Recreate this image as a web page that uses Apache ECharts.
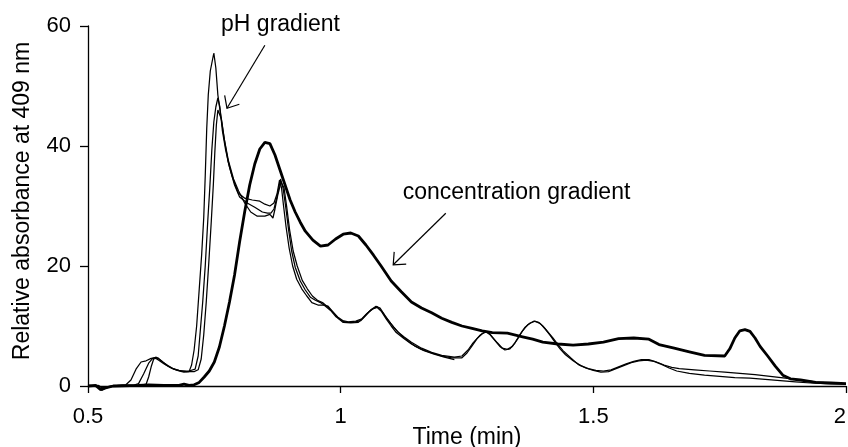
<!DOCTYPE html>
<html>
<head>
<meta charset="utf-8">
<script src="https://cdn.jsdelivr.net/npm/echarts@6/dist/echarts.min.js"></script>
<style>
html, body { margin: 0; padding: 0; background: #fff; }
#chart1 { width: 848px; height: 447px; }
</style>
</head>
<body>
<div id="chart1"></div>
<script>
// axis ticks
var xTicks = [0.5, 1, 1.5, 2];
var yTicks = [0, 20, 40, 60];

// concentration gradient run (thick)
var concRun = [
    [0.5, 0], [0.515, 0.1], [0.525, -0.6], [0.535, -0.3], [0.55, 0], [0.6, 0.1], [0.62, 0.2],
    [0.65, 0.1], [0.68, 0.1], [0.69, 0.3], [0.7, 0.1], [0.71, 0.2], [0.72, 0.6], [0.73, 1.5],
    [0.74, 2.5], [0.75, 4], [0.76, 6.5], [0.77, 10], [0.78, 14], [0.79, 18.5], [0.8, 24],
    [0.81, 29], [0.82, 33.5], [0.83, 37], [0.84, 39.5], [0.85, 40.6], [0.86, 40.4], [0.87, 38.5],
    [0.88, 36], [0.89, 33.5], [0.9, 31], [0.91, 29], [0.92, 27.3], [0.93, 25.8], [0.945, 24.3],
    [0.96, 23.3], [0.975, 23.5], [0.99, 24.5], [1.005, 25.3], [1.02, 25.5], [1.035, 25],
    [1.05, 23.5], [1.065, 21.8], [1.08, 20], [1.1, 17.5], [1.12, 15.7], [1.14, 14], [1.16, 13],
    [1.18, 12.2], [1.2, 11.3], [1.22, 10.6], [1.24, 10], [1.26, 9.6], [1.28, 9.2], [1.3, 8.9],
    [1.33, 8.8], [1.36, 8.2], [1.38, 7.8], [1.4, 7.3], [1.43, 7], [1.46, 6.8], [1.49, 7],
    [1.52, 7.3], [1.55, 7.9], [1.58, 8], [1.61, 7.8], [1.63, 6.9], [1.66, 6.3], [1.69, 5.7],
    [1.72, 5.1], [1.76, 5], [1.77, 6.2], [1.78, 8], [1.79, 9.2], [1.8, 9.4], [1.81, 9.1],
    [1.82, 8], [1.83, 6.6], [1.845, 5], [1.86, 3.3], [1.875, 1.8], [1.89, 1.2], [1.91, 1],
    [1.94, 0.6], [1.97, 0.5], [2, 0.4]
];

// pH gradient runs (thin)
var phRunA = [
    [0.5, 0.1], [0.52, 0], [0.528, -0.7], [0.54, -0.2], [0.56, 0.1], [0.575, 0.2], [0.585, 1],
    [0.595, 2.8], [0.605, 4], [0.615, 4.2], [0.625, 4.6], [0.632, 4.7], [0.64, 4.3], [0.65, 3.7],
    [0.66, 3.2], [0.67, 2.8], [0.68, 2.5], [0.69, 2.3], [0.7, 2.4], [0.705, 3.5], [0.71, 6],
    [0.715, 10], [0.72, 16], [0.725, 22], [0.729, 28], [0.732, 35], [0.735, 43], [0.738, 48.5],
    [0.742, 52.5], [0.749, 55.5], [0.753, 53], [0.757, 48.5], [0.762, 45.5], [0.769, 41.5],
    [0.777, 37.5], [0.785, 35], [0.797, 32.2], [0.81, 31.3], [0.825, 31], [0.84, 30.8],
    [0.85, 30.3], [0.86, 30], [0.868, 30.5], [0.874, 32], [0.879, 34.3], [0.883, 33],
    [0.887, 30], [0.892, 26.5], [0.898, 23], [0.905, 20], [0.913, 17.8], [0.923, 16.2],
    [0.933, 15], [0.943, 13.9], [0.955, 13.5], [0.965, 13.5], [0.975, 13.3], [0.985, 12.3],
    [0.995, 11.3], [1.005, 10.6], [1.02, 10.5], [1.035, 10.6], [1.045, 11.4], [1.055, 12.3],
    [1.065, 12.9], [1.072, 13.1], [1.08, 12.5], [1.09, 11.2], [1.1, 10], [1.11, 8.9],
    [1.125, 7.9], [1.14, 7], [1.16, 6.1], [1.18, 5.5], [1.2, 5], [1.22, 4.7], [1.24, 4.7],
    [1.25, 5.5], [1.26, 6.7], [1.27, 7.9], [1.28, 8.7], [1.288, 9], [1.295, 8.6], [1.305, 7.6],
    [1.315, 6.6], [1.325, 6], [1.335, 6.2], [1.345, 7.2], [1.355, 8.6], [1.365, 9.8],
    [1.375, 10.5], [1.385, 10.8], [1.395, 10.4], [1.405, 9.5], [1.415, 8.4], [1.425, 7.2],
    [1.435, 6.1], [1.445, 5.2], [1.46, 4.2], [1.475, 3.4], [1.49, 2.9], [1.505, 2.6],
    [1.52, 2.5], [1.535, 2.7], [1.55, 3.2], [1.565, 3.7], [1.58, 4.1], [1.595, 4.4], [1.61, 4.4],
    [1.625, 4], [1.64, 3.5], [1.655, 3.1], [1.67, 2.9], [1.7, 2.7], [1.73, 2.5], [1.76, 2.3],
    [1.79, 2.1], [1.82, 1.9], [1.85, 1.6], [1.88, 1.3], [1.91, 1], [1.94, 0.7], [1.97, 0.5],
    [2, 0.4]
];

var phRunB = [
    [0.5, 0], [0.52, 0.1], [0.53, -0.4], [0.545, 0], [0.57, 0.1], [0.59, 0.1], [0.6, 0.4],
    [0.61, 2], [0.62, 3.8], [0.628, 4.6], [0.635, 4.8], [0.645, 4.2], [0.655, 3.5], [0.665, 3],
    [0.675, 2.7], [0.685, 2.5], [0.7, 2.5], [0.712, 2.8], [0.718, 5], [0.722, 9], [0.727, 14],
    [0.732, 20], [0.737, 27.5], [0.741, 33], [0.745, 39.3], [0.749, 44], [0.753, 46.5],
    [0.757, 48], [0.761, 46.5], [0.766, 42.5], [0.772, 39.5], [0.78, 36.5], [0.79, 33.5],
    [0.8, 31.5], [0.815, 30.5], [0.83, 29.8], [0.845, 29], [0.855, 28.8], [0.862, 28.8],
    [0.868, 29.5], [0.874, 31.5], [0.881, 34.5], [0.886, 33], [0.891, 30], [0.897, 26],
    [0.903, 22.5], [0.91, 19.8], [0.92, 17.5], [0.93, 16], [0.94, 14.8], [0.95, 14.3],
    [0.96, 13.9], [0.97, 13.3], [0.98, 12.6], [0.99, 11.6], [1, 11], [1.01, 10.6], [1.025, 10.6],
    [1.04, 10.9], [1.05, 11.8], [1.06, 12.7], [1.07, 13.3], [1.078, 13], [1.088, 11.7],
    [1.1, 10.3], [1.112, 9.1], [1.125, 8.2], [1.14, 7.3], [1.16, 6.3], [1.18, 5.6], [1.2, 5.1],
    [1.225, 4.8], [1.24, 5], [1.252, 6], [1.262, 7.2], [1.275, 8.4], [1.285, 9], [1.292, 9],
    [1.3, 8.2], [1.31, 7.2], [1.32, 6.3], [1.33, 6.1], [1.34, 6.6], [1.35, 7.8], [1.36, 9.2],
    [1.37, 10.2], [1.382, 10.8], [1.392, 10.6], [1.4, 10], [1.41, 9], [1.42, 8], [1.43, 6.9],
    [1.44, 5.9], [1.455, 4.7], [1.47, 3.6], [1.485, 3], [1.5, 2.6], [1.515, 2.3], [1.53, 2.4],
    [1.545, 2.9], [1.56, 3.4], [1.575, 3.9], [1.59, 4.2], [1.605, 4.3], [1.62, 4.1],
    [1.635, 3.6], [1.65, 3], [1.665, 2.5], [1.69, 2.1], [1.72, 1.8], [1.75, 1.6], [1.78, 1.4],
    [1.81, 1.3], [1.84, 1.1], [1.87, 0.9], [1.9, 0.7], [1.93, 0.5], [1.96, 0.4], [2, 0.3]
];

var phRunC = [
    [0.5, 0], [0.52, 0], [0.535, -0.3], [0.55, 0], [0.58, 0.1], [0.605, 0.1], [0.615, 0.3],
    [0.62, 1.5], [0.625, 3.2], [0.63, 4.5], [0.638, 4.7], [0.648, 4], [0.658, 3.4], [0.668, 2.9],
    [0.68, 2.6], [0.695, 2.4], [0.71, 2.4], [0.718, 2.7], [0.724, 4.5], [0.729, 8.5],
    [0.734, 14], [0.739, 20.5], [0.744, 27.5], [0.748, 33.5], [0.751, 39], [0.754, 43.5],
    [0.757, 46], [0.76, 46.3], [0.764, 44.5], [0.77, 41], [0.778, 37.5], [0.788, 34.5],
    [0.798, 32.5], [0.81, 30.5], [0.822, 29], [0.835, 28.3], [0.85, 28.3], [0.86, 28.6],
    [0.866, 28], [0.87, 29.5], [0.876, 32], [0.882, 34], [0.888, 33], [0.893, 30],
    [0.899, 26], [0.906, 22.5], [0.914, 20], [0.924, 17.6], [0.934, 16.2], [0.944, 15],
    [0.954, 14.3], [0.964, 13.9], [0.974, 13.2], [0.984, 12.4], [0.994, 11.5], [1.004, 10.9],
    [1.015, 10.7], [1.03, 10.8], [1.042, 11.2], [1.052, 12.1], [1.062, 12.8], [1.072, 13.2],
    [1.082, 12.4], [1.092, 11.2], [1.105, 9.8], [1.118, 8.6], [1.132, 7.6], [1.148, 6.6],
    [1.165, 5.9], [1.185, 5.3], [1.205, 4.8], [1.225, 4.4]
];

// annotations, in data units: text centre, arrow start, arrow tip
var phNote = { text: 'pH gradient', at: [0.881, 60.2], from: [0.85, 56.8], to: [0.775, 46.3] };
var concNote = { text: 'concentration gradient', at: [1.348, 32.2], from: [1.208, 28.8], to: [1.104, 20.2] };

var FONT = '"Liberation Sans", Arial, sans-serif';

var chart = echarts.init(document.getElementById('chart1'));

function thin(name, data) {
    return {
        name: name, type: 'line', data: data, symbol: 'none', clip: false,
        lineStyle: { color: '#000', width: 1.25 }, z: 3
    };
}

var option = {
    animation: false,
    backgroundColor: '#fff',
    textStyle: { fontFamily: FONT },
    grid: { left: 88, right: 2, top: 26, bottom: 61, outerBoundsMode: 'none', containLabel: false },
    xAxis: {
        type: 'value', min: xTicks[0], max: xTicks[xTicks.length - 1], interval: 0.5,
        name: 'Time (min)', nameLocation: 'middle', nameGap: 40, nameMoveOverlap: false,
        nameTextStyle: { color: '#000', fontSize: 23, fontFamily: FONT },
        axisLine: { onZero: false, lineStyle: { color: '#000', width: 1.3 } },
        axisTick: { show: true, length: 7, lineStyle: { color: '#000', width: 1.3 } },
        axisLabel: { color: '#000', fontSize: 22, margin: 20, fontFamily: FONT, alignMaxLabel: 'right' },
        splitLine: { show: false }
    },
    yAxis: {
        type: 'value', min: yTicks[0], max: yTicks[yTicks.length - 1], interval: 20,
        name: 'Relative absorbance at 409 nm', nameLocation: 'middle', nameGap: 54, nameMoveOverlap: false,
        nameTextStyle: { color: '#000', fontSize: 23, fontFamily: FONT, padding: [0, 0, 0, 10] },
        axisLine: { show: true, lineStyle: { color: '#000', width: 1.3 } },
        axisTick: { show: true, length: 8, lineStyle: { color: '#000', width: 1.3 } },
        axisLabel: { color: '#000', fontSize: 22, margin: 17, fontFamily: FONT },
        splitLine: { show: false }
    },
    series: [
        thin('pH run 1', phRunA),
        thin('pH run 2', phRunB),
        thin('pH run 3', phRunC),
        {
            name: 'concentration', type: 'line', data: concRun, symbol: 'none', clip: false,
            lineStyle: { color: '#000', width: 2.8 }, z: 4
        }
    ]
};

chart.setOption(option);

// arrows with open heads, placed from data coords
function noteGraphics(note) {
    var p = chart.convertToPixel({ gridIndex: 0 }, note.at);
    var a = chart.convertToPixel({ gridIndex: 0 }, note.from);
    var b = chart.convertToPixel({ gridIndex: 0 }, note.to);
    var ang = Math.atan2(a[1] - b[1], a[0] - b[0]);
    var len = 13, spread = 0.72;
    var w1 = [b[0] + len * Math.cos(ang - spread), b[1] + len * Math.sin(ang - spread)];
    var w2 = [b[0] + len * Math.cos(ang + spread), b[1] + len * Math.sin(ang + spread)];
    var stroke = { stroke: '#000', lineWidth: 1.2, fill: null };
    return [
        {
            type: 'text', x: p[0], y: p[1],
            style: { text: note.text, font: '23px ' + FONT, fill: '#000', align: 'center', verticalAlign: 'middle' }
        },
        { type: 'line', shape: { x1: a[0], y1: a[1], x2: b[0], y2: b[1] }, style: stroke },
        { type: 'polyline', shape: { points: [w1, b, w2] }, style: stroke }
    ];
}

chart.setOption({ graphic: noteGraphics(phNote).concat(noteGraphics(concNote)) });
</script>
</body>
</html>
